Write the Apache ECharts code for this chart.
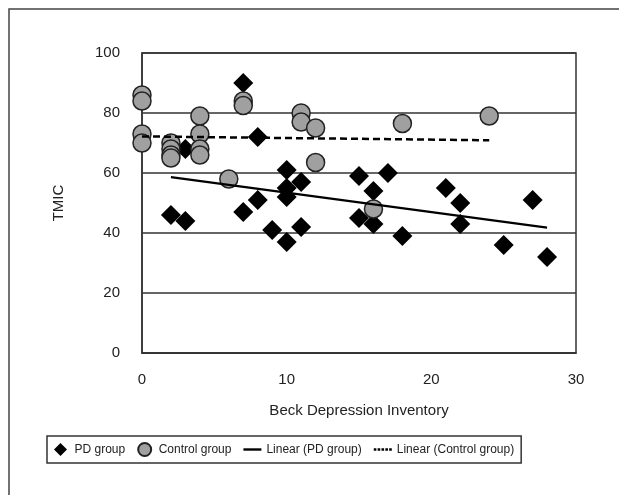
<!DOCTYPE html>
<html>
<head>
<meta charset="utf-8">
<script src="https://cdn.jsdelivr.net/npm/echarts@6/dist/echarts.min.js"></script>
<style>
html,body{margin:0;padding:0;background:#fff;}
#chart{width:619px;height:495px;}
</style>
</head>
<body>
<div id="chart"></div>
<script>
// Beck Depression Inventory (x) vs TMIC (y)
var pdGroup = [
  [7, 90], [8, 72], [3, 68], [10, 61], [11, 57], [15, 59], [10, 55], [10, 52],
  [8, 51], [7, 47], [2, 46], [3, 44], [9, 41], [10, 37], [11, 42], [17, 60],
  [16, 54], [15, 45], [16, 43], [18, 39], [21, 55], [22, 50], [22, 43],
  [25, 36], [27, 51], [28, 32]
];
var controlGroup = [
  [0, 86], [0, 84], [0, 73], [0, 70],
  [2, 70], [2, 68], [2, 66], [2, 65],
  [4, 79], [4, 73], [4, 68], [4, 66],
  [6, 58], [7, 84], [7, 82.5], [11, 80], [11, 77], [12, 75], [12, 63.5],
  [16, 48], [18, 76.5], [24, 79]
];
var linearPD = [[2, 58.6], [28, 41.8]];
var linearControl = [[0, 72.2], [24, 70.9]];
var xTicks = [0, 10, 20, 30];
var yTicks = [0, 20, 40, 60, 80, 100];
var seriesNames = ['PD group', 'Control group', 'Linear (PD group)', 'Linear (Control group)'];

var chart = echarts.init(document.getElementById('chart'), null, {renderer: 'canvas'});
var font = 'Liberation Sans, Arial, sans-serif';
chart.setOption({
  animation: false,
  backgroundColor: '#fff',
  textStyle: {fontFamily: font},
  graphic: [{
    type: 'polyline',
    shape: {points: [[9, 495], [9, 9], [619, 9]]},
    style: {stroke: '#444', lineWidth: 1.5, fill: null},
    silent: true
  }],
  grid: {left: 142, right: 43, top: 53, bottom: 142, show: true, borderColor: '#333', borderWidth: 1.5},
  xAxis: {
    type: 'value', min: xTicks[0], max: xTicks[xTicks.length - 1], interval: 10,
    name: 'Beck Depression Inventory', nameLocation: 'middle', nameGap: 50,
    nameTextStyle: {fontSize: 15, color: '#222', fontFamily: font},
    axisLine: {show: true, lineStyle: {color: '#333', width: 1.5}},
    axisTick: {show: false},
    axisLabel: {fontSize: 15, color: '#222', margin: 19, fontFamily: font},
    splitLine: {show: false}
  },
  yAxis: {
    type: 'value', min: yTicks[0], max: yTicks[yTicks.length - 1], interval: 20,
    name: 'TMIC', nameLocation: 'middle', nameGap: 76,
    nameTextStyle: {fontSize: 15, color: '#222', fontFamily: font},
    axisLine: {show: true, lineStyle: {color: '#333', width: 1.5}},
    axisTick: {show: false},
    axisLabel: {fontSize: 15, color: '#222', margin: 22, fontFamily: font},
    splitLine: {show: true, lineStyle: {color: '#333', width: 1.5}}
  },
  legend: {
    data: [
      {name: seriesNames[0], icon: 'path://M6,0L12,6L6,12L0,6Z'},
      {name: seriesNames[1], icon: 'circle'},
      {name: seriesNames[2], icon: 'path://M0,0H18V2.4H0Z'},
      {name: seriesNames[3], icon: 'path://M0,0H2.6V2.4H0Z M3.85,0H6.45V2.4H3.85Z M7.7,0H10.3V2.4H7.7Z M11.55,0H14.15V2.4H11.55Z M15.4,0H18V2.4H15.4Z'}
    ],
    left: 47, top: 436,
    orient: 'horizontal',
    itemWidth: 18, itemHeight: 13, itemGap: 12,
    symbolKeepAspect: true,
    padding: [6, 7],
    borderColor: '#333', borderWidth: 1.5,
    textStyle: {fontSize: 12, color: '#222', fontFamily: font}
  },
  series: [
    {
      name: seriesNames[0], type: 'scatter', data: pdGroup,
      symbol: 'diamond', symbolSize: 20,
      itemStyle: {color: '#000', borderColor: '#000', borderWidth: 0, opacity: 1}
    },
    {
      name: seriesNames[1], type: 'scatter', data: controlGroup,
      symbol: 'circle', symbolSize: 18,
      itemStyle: {color: '#a0a0a0', borderColor: '#222', borderWidth: 1.5, opacity: 1}
    },
    {
      name: seriesNames[2], type: 'line', data: linearPD,
      symbol: 'none', showSymbol: false,
      lineStyle: {color: '#000', width: 2.2, type: 'solid'},
      itemStyle: {color: '#000'}
    },
    {
      name: seriesNames[3], type: 'line', data: linearControl,
      symbol: 'none', showSymbol: false,
      lineStyle: {color: '#000', width: 2.5, type: [7, 4]},
      itemStyle: {color: '#000'}
    }
  ]
});
</script>
</body>
</html>
